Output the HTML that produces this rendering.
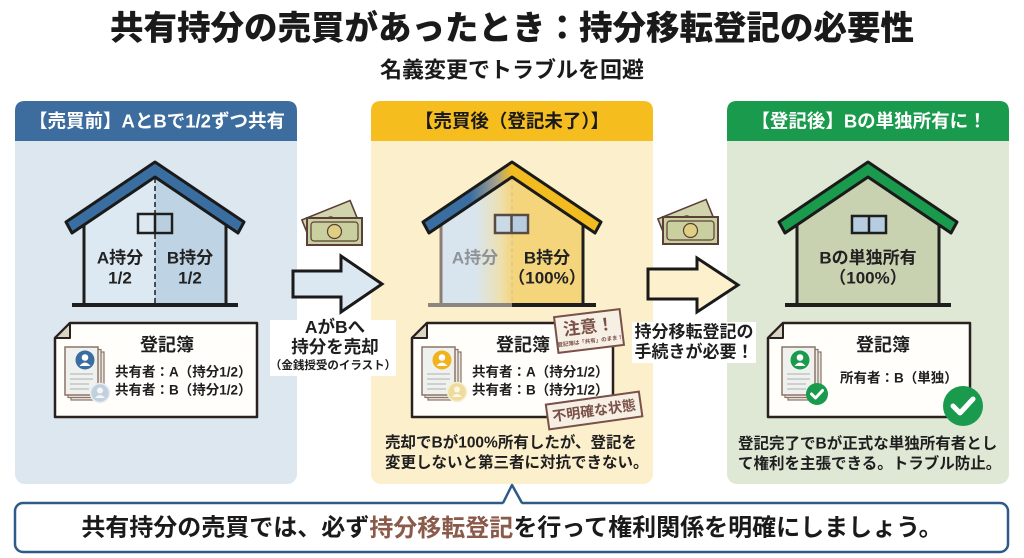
<!DOCTYPE html>
<html><head><meta charset="utf-8"><style>
html,body{margin:0;padding:0;background:#fff;}
svg{display:block;font-family:"Liberation Sans","Noto Sans CJK JP",sans-serif;}
text{dominant-baseline:central;}
</style></head><body>
<svg width="1024" height="558" viewBox="0 0 1024 558" xmlns="http://www.w3.org/2000/svg">
<defs>
<linearGradient id="mh" gradientUnits="userSpaceOnUse" x1="442" y1="0" x2="582" y2="0">
<stop offset="0" stop-color="#d9e5ee"/><stop offset="0.24" stop-color="#d9e5ee"/><stop offset="0.42" stop-color="#ede0b0"/><stop offset="0.5" stop-color="#f5d57c"/><stop offset="1" stop-color="#f5d57c"/>
</linearGradient>
<linearGradient id="mr" gradientUnits="userSpaceOnUse" x1="423" y1="0" x2="600" y2="0">
<stop offset="0" stop-color="#3b6ea0"/><stop offset="0.27" stop-color="#3b6ea0"/><stop offset="0.42" stop-color="#a9a48a"/><stop offset="0.5" stop-color="#f2bb20"/><stop offset="1" stop-color="#f2bb20"/>
</linearGradient>
</defs>
<rect width="1024" height="558" fill="#fff"/>

<!-- Title -->
<text x="512" y="29" font-size="33.5" font-weight="900" text-anchor="middle" fill="#1a1a1a">共有持分の売買があったとき：持分移転登記の必要性</text>
<text x="512" y="70" font-size="22" font-weight="bold" text-anchor="middle" fill="#1a1a1a">名義変更でトラブルを回避</text>

<!-- Panels -->
<rect x="15" y="101" width="282" height="383" rx="10" fill="#dce7f0"/>
<path d="M15,141 V111 Q15,101 25,101 H287 Q297,101 297,111 V141 Z" fill="#3d6d9e"/>
<text x="157" y="121" font-size="18.5" font-weight="bold" text-anchor="middle" fill="#fff">【売買前】AとBで1/2ずつ共有</text>

<rect x="371" y="101" width="282" height="383" rx="10" fill="#fcefcc"/>
<path d="M371,141 V111 Q371,101 381,101 H643 Q653,101 653,111 V141 Z" fill="#f5bd1e"/>
<text x="512" y="121" font-size="18.5" font-weight="bold" text-anchor="middle" fill="#1a1a1a">【売買後（登記未了）】</text>

<rect x="727" y="101" width="282" height="383" rx="10" fill="#dfe8d5"/>
<path d="M727,141 V111 Q727,101 737,101 H999 Q1009,101 1009,111 V141 Z" fill="#1a9a4c"/>
<text x="869" y="121" font-size="18.5" font-weight="bold" text-anchor="middle" fill="#fff">【登記後】Bの単独所有に！</text>

<!-- Left house -->
<polygon points="84,305 84,225 155,176 155,305" fill="#dde9f2"/>
<polygon points="226,305 226,225 155,176 155,305" fill="#bed3e3"/>
<line x1="84" y1="222" x2="84" y2="305" stroke="#1e1e1e" stroke-width="3"/>
<line x1="226" y1="222" x2="226" y2="305" stroke="#1e1e1e" stroke-width="3"/>
<line x1="155" y1="178" x2="155" y2="305" stroke="#1e1e1e" stroke-width="1.5" stroke-dasharray="5,3"/>
<polygon points="66,222 155,162 244,222 238,233 155,177 72,233" fill="#3b6ea0" stroke="#1a1a1a" stroke-width="3" stroke-linejoin="round"/>
<line x1="72" y1="305" x2="238" y2="305" stroke="#1e1e1e" stroke-width="4"/>
<rect x="138" y="214" width="34" height="19" fill="#dce8f1" stroke="#1e1e1e" stroke-width="2.5"/>
<rect x="155" y="215.5" width="15.5" height="16" fill="#b9cfe0"/>
<line x1="155" y1="214" x2="155" y2="233" stroke="#1e1e1e" stroke-width="2.5"/>
<text x="120" y="258" font-size="17" font-weight="bold" text-anchor="middle" fill="#222">A持分</text>
<text x="120" y="278" font-size="17" font-weight="bold" text-anchor="middle" fill="#222">1/2</text>
<text x="190" y="258" font-size="17" font-weight="bold" text-anchor="middle" fill="#222">B持分</text>
<text x="190" y="278" font-size="17" font-weight="bold" text-anchor="middle" fill="#222">1/2</text>

<!-- Middle house -->
<polygon points="441,305 441,225 512,176 583,225 583,305" fill="url(#mh)"/>
<line x1="441" y1="222" x2="441" y2="305" stroke="#8c7d73" stroke-width="3"/>
<line x1="583" y1="222" x2="583" y2="305" stroke="#1e1e1e" stroke-width="3"/>
<line x1="512" y1="178" x2="512" y2="305" stroke="#c9c1a8" stroke-width="1" stroke-dasharray="4,3"/>
<polygon points="423,222 512,162 601,222 595,233 512,177 429,233" fill="url(#mr)" stroke="#1a1a1a" stroke-width="3" stroke-linejoin="round"/>
<line x1="428" y1="305" x2="512" y2="305" stroke="#8c8680" stroke-width="4"/>
<line x1="512" y1="305" x2="596" y2="305" stroke="#1e1e1e" stroke-width="4"/>
<rect x="495" y="215" width="33" height="18" fill="#c9d9e6" stroke="#5a4a44" stroke-width="2.5"/>
<rect x="512" y="216.5" width="14.5" height="15" fill="#b6cde0"/>
<line x1="511.5" y1="215" x2="511.5" y2="233" stroke="#5a4a44" stroke-width="2.5"/>
<text x="475" y="258" font-size="17" font-weight="bold" text-anchor="middle" fill="#8e9399">A持分</text>
<text x="547" y="258" font-size="17" font-weight="bold" text-anchor="middle" fill="#222">B持分</text>
<text x="547" y="278" font-size="17" font-weight="bold" text-anchor="middle" fill="#222">（100%）</text>

<!-- Right house -->
<polygon points="797,305 797,225 868,176 939,225 939,305" fill="#c8d1b0"/>
<line x1="797" y1="222" x2="797" y2="305" stroke="#1e1e1e" stroke-width="3"/>
<line x1="939" y1="222" x2="939" y2="305" stroke="#1e1e1e" stroke-width="3"/>
<polygon points="779,222 868,162 957,222 951,233 868,177 785,233" fill="#1a9a4c" stroke="#1a1a1a" stroke-width="3" stroke-linejoin="round"/>
<line x1="785" y1="305" x2="951" y2="305" stroke="#1e1e1e" stroke-width="4"/>
<rect x="852" y="216" width="34" height="17" fill="#b6cde0" stroke="#1e1e1e" stroke-width="2.5"/>
<line x1="869" y1="216" x2="869" y2="233" stroke="#1e1e1e" stroke-width="2.5"/>
<text x="868" y="258" font-size="17" font-weight="bold" text-anchor="middle" fill="#222">Bの単独所有</text>
<text x="868" y="278" font-size="17" font-weight="bold" text-anchor="middle" fill="#222">（100%）</text>

<!-- Left card -->
<path d="M70,323 H257 V417 H55 V338 Z" fill="#fffefb" stroke="#2a211f" stroke-width="2.5" stroke-linejoin="round"/>
<path d="M55,338 H70 V323 Z" fill="#d8d5c2" stroke="#2a211f" stroke-width="2" stroke-linejoin="round"/>
<g transform="translate(65,347)">
<rect x="6" y="5" width="33" height="48" fill="#e9e6df" stroke="#8c7468" stroke-width="1.2"/>
<rect x="3" y="2.5" width="33" height="48" fill="#ecebe6" stroke="#8c7468" stroke-width="1.2"/>
<rect x="0" y="0" width="33" height="48" fill="#eef1ee" stroke="#8c7468" stroke-width="1.5"/>
<circle cx="20" cy="13" r="9.5" fill="#3b6ea0"/>
<circle cx="20" cy="10.5" r="3.3" fill="#fff"/>
<path d="M14.5,19 Q20,12 25.5,19 Z" fill="#fff"/>
<g stroke="#a9b0ad" stroke-width="1"><line x1="5" y1="27" x2="28" y2="27"/><line x1="5" y1="32" x2="28" y2="32"/><line x1="5" y1="37" x2="24" y2="37"/><line x1="5" y1="42" x2="24" y2="42"/></g>
<circle cx="35" cy="46" r="9.5" fill="#c2d0dd" stroke="#e8eef3" stroke-width="1.5"/>
<circle cx="35" cy="43.5" r="3" fill="#f4f7fa"/>
<path d="M30,51 Q35,45 40,51 Z" fill="#f4f7fa"/>
</g>
<text x="167" y="345" font-size="18" font-weight="bold" text-anchor="middle" fill="#1e1e1e">登記簿</text>
<text x="115" y="372" font-size="13.5" font-weight="bold" fill="#1e1e1e">共有者：A（持分1/2）</text>
<text x="115" y="390" font-size="13.5" font-weight="bold" fill="#1e1e1e">共有者：B（持分1/2）</text>

<!-- Middle card -->
<path d="M427,323 H613 V417 H412 V338 Z" fill="#fffefb" stroke="#2a211f" stroke-width="2.5" stroke-linejoin="round"/>
<path d="M412,338 H427 V323 Z" fill="#d8d5c2" stroke="#2a211f" stroke-width="2" stroke-linejoin="round"/>
<g transform="translate(422,347)">
<rect x="6" y="5" width="33" height="48" fill="#e9e6df" stroke="#8c7468" stroke-width="1.2"/>
<rect x="3" y="2.5" width="33" height="48" fill="#ecebe6" stroke="#8c7468" stroke-width="1.2"/>
<rect x="0" y="0" width="33" height="48" fill="#eef1ee" stroke="#8c7468" stroke-width="1.5"/>
<circle cx="20" cy="13" r="9.5" fill="#f2b21c"/>
<circle cx="20" cy="10.5" r="3.3" fill="#fff"/>
<path d="M14.5,19 Q20,12 25.5,19 Z" fill="#fff"/>
<g stroke="#a9b0ad" stroke-width="1"><line x1="5" y1="27" x2="28" y2="27"/><line x1="5" y1="32" x2="28" y2="32"/><line x1="5" y1="37" x2="24" y2="37"/><line x1="5" y1="42" x2="24" y2="42"/></g>
<circle cx="35" cy="45" r="9.5" fill="#efdc9c" stroke="#f7efd2" stroke-width="1.5"/>
<circle cx="35" cy="42.5" r="3" fill="#fbf6e6"/>
<path d="M30,50 Q35,44 40,50 Z" fill="#fbf6e6"/>
</g>
<text x="523" y="345" font-size="18" font-weight="bold" text-anchor="middle" fill="#1e1e1e">登記簿</text>
<text x="472" y="372" font-size="13.5" font-weight="bold" fill="#1e1e1e">共有者：A（持分1/2）</text>
<text x="472" y="390" font-size="13.5" font-weight="bold" fill="#1e1e1e">共有者：B（持分1/2）</text>
<g transform="rotate(-7 589 331)">
<rect x="556" y="313" width="66" height="36" fill="#f6efe4" stroke="#7a5048" stroke-width="2"/>
<text x="589" y="327" font-size="17" font-weight="bold" text-anchor="middle" fill="#7a5048">注意！</text>
<text x="589" y="342" font-size="5.5" font-weight="bold" text-anchor="middle" fill="#7a5048">登記簿は「共有」のまま！</text>
</g>
<g transform="rotate(-8 594 410)">
<rect x="547" y="398" width="94" height="25" fill="#f6efe4" stroke="#7a5048" stroke-width="2"/>
<text x="594" y="410.5" font-size="14" font-weight="bold" text-anchor="middle" fill="#7a5048">不明確な状態</text>
</g>
<text x="385" y="443" font-size="15.5" font-weight="bold" fill="#1e1e1e">売却でBが100%所有したが、登記を</text>
<text x="385" y="463" font-size="15.5" font-weight="bold" fill="#1e1e1e">変更しないと第三者に対抗できない。</text>

<!-- Right card -->
<path d="M783,323 H970 V417 H768 V338 Z" fill="#fffefb" stroke="#2a211f" stroke-width="2.5" stroke-linejoin="round"/>
<path d="M768,338 H783 V323 Z" fill="#d8d5c2" stroke="#2a211f" stroke-width="2" stroke-linejoin="round"/>
<g transform="translate(782,347)">
<rect x="6" y="5" width="33" height="48" fill="#e9e6df" stroke="#8c7468" stroke-width="1.2"/>
<rect x="3" y="2.5" width="33" height="48" fill="#ecebe6" stroke="#8c7468" stroke-width="1.2"/>
<rect x="0" y="0" width="33" height="48" fill="#eef1ee" stroke="#8c7468" stroke-width="1.5"/>
<circle cx="18" cy="13" r="9.5" fill="#1a9a4c"/>
<circle cx="18" cy="10.5" r="3.3" fill="#fff"/>
<path d="M12.5,19 Q18,12 23.5,19 Z" fill="#fff"/>
<g stroke="#a9b0ad" stroke-width="1"><line x1="5" y1="27" x2="28" y2="27"/><line x1="5" y1="32" x2="28" y2="32"/><line x1="5" y1="37" x2="24" y2="37"/><line x1="5" y1="42" x2="24" y2="42"/></g>
<circle cx="35" cy="47" r="11" fill="#1a9a4c"/>
<polyline points="29.5,47 33.5,51 40.5,43.5" fill="none" stroke="#fff" stroke-width="3" stroke-linecap="round" stroke-linejoin="round"/>
</g>
<text x="883" y="345" font-size="18" font-weight="bold" text-anchor="middle" fill="#1e1e1e">登記簿</text>
<text x="840" y="378" font-size="13.5" font-weight="bold" fill="#1e1e1e">所有者：B（単独）</text>
<circle cx="963" cy="406" r="20" fill="#1a9a4c"/>
<polyline points="953,406 960,413 973,399" fill="none" stroke="#fff" stroke-width="5" stroke-linecap="round" stroke-linejoin="round"/>
<text x="738" y="444" font-size="15.5" font-weight="bold" fill="#1e1e1e">登記完了でBが正式な単独所有者とし</text>
<text x="738" y="464" font-size="15.5" font-weight="bold" fill="#1e1e1e">て権利を主張できる。トラブル防止。</text>

<!-- Money 1 -->
<g transform="translate(307,218)">
<g transform="rotate(-22 5 27)">
<rect x="5" y="0" width="52" height="25" fill="#d2d5ab" stroke="#5a4038" stroke-width="1.6"/>
<circle cx="31" cy="12.5" r="5" fill="none" stroke="#5a4038" stroke-width="1"/>
</g>
<rect x="0" y="0" width="55" height="27" fill="#c9cf9f" stroke="#5a4038" stroke-width="2"/>
<rect x="4" y="4" width="47" height="19" rx="3" fill="none" stroke="#5a4038" stroke-width="1.2"/>
<circle cx="27.5" cy="13.5" r="7" fill="#dfcf82" stroke="#5a4038" stroke-width="1.2"/>
</g>
<!-- Money 2 -->
<g transform="translate(663,217)">
<g transform="rotate(-22 5 27)">
<rect x="5" y="0" width="52" height="25" fill="#d2d5ab" stroke="#5a4038" stroke-width="1.6"/>
<circle cx="31" cy="12.5" r="5" fill="none" stroke="#5a4038" stroke-width="1"/>
</g>
<rect x="0" y="0" width="55" height="27" fill="#c9cf9f" stroke="#5a4038" stroke-width="2"/>
<rect x="4" y="4" width="47" height="19" rx="3" fill="none" stroke="#5a4038" stroke-width="1.2"/>
<circle cx="27.5" cy="13.5" r="7" fill="#dfcf82" stroke="#5a4038" stroke-width="1.2"/>
</g>

<!-- Arrows -->
<polygon points="293,271 341,271 341,256 382,284 341,312 341,297 293,297" fill="#dce8f1" stroke="#1a1a1a" stroke-width="3" stroke-linejoin="miter"/>
<polygon points="648,269 697,269 697,258 738,285 697,312 697,299 648,299" fill="#fdf0cc" stroke="#1a1a1a" stroke-width="3" stroke-linejoin="miter"/>

<!-- Arrow labels -->
<rect x="270" y="320" width="126" height="56" fill="#fff"/>
<text x="335" y="327" font-size="17.5" font-weight="bold" text-anchor="middle" fill="#1e1e1e">AがBへ</text>
<text x="335" y="347" font-size="17.5" font-weight="bold" text-anchor="middle" fill="#1e1e1e">持分を売却</text>
<text x="333" y="366" font-size="11.5" font-weight="bold" text-anchor="middle" fill="#1e1e1e">（金銭授受のイラスト）</text>
<rect x="632" y="322" width="124" height="41" fill="#fff"/>
<text x="694" y="332" font-size="17" font-weight="bold" text-anchor="middle" fill="#1e1e1e">持分移転登記の</text>
<text x="694" y="352" font-size="17" font-weight="bold" text-anchor="middle" fill="#1e1e1e">手続きが必要！</text>

<!-- Bottom banner -->
<rect x="15" y="503" width="993" height="49" rx="8" fill="#fff" stroke="#2e5a87" stroke-width="2.5"/>
<polygon points="503,504.5 512,485 522,504.5" fill="#fff"/>
<polyline points="503,503 512,485 522,503" fill="none" stroke="#2e5a87" stroke-width="2.5" stroke-linejoin="round"/>
<text x="512" y="528" font-size="24" font-weight="bold" text-anchor="middle" fill="#1a1a1a">共有持分の売買では、必ず<tspan fill="#8a5a4a">持分移転登記</tspan>を行って権利関係を明確にしましょう。</text>
</svg>
</body></html>
